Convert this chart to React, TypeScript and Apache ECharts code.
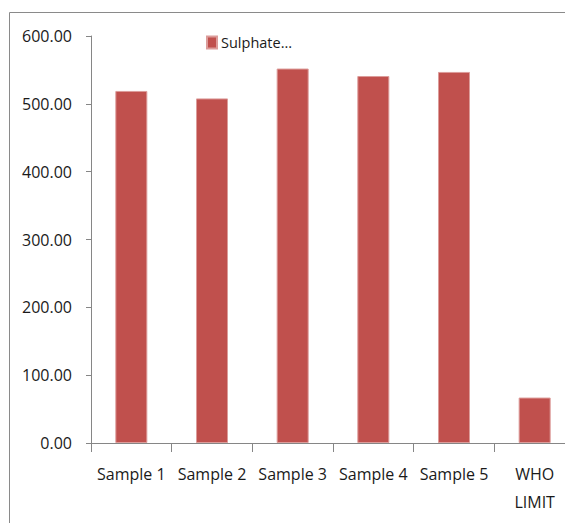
import React, { useEffect, useRef } from "react";
import * as echarts from "echarts";

// Sulphate concentration per sample, compared with the WHO limit
const categories = ["Sample 1", "Sample 2", "Sample 3", "Sample 4", "Sample 5", "WHO\nLIMIT"];
const sulphate = [519, 508, 552, 541, 547, 67];
const seriesName = "Sulphate...";
const yTicks = { min: 0, max: 600, step: 100 };

const FONT = "'Open Sans', 'DejaVu Sans', sans-serif";
const AXIS_GRAY = "#868686";
const TEXT = "#1a1a1a";

export default function App() {
  const ref = useRef<HTMLDivElement>(null);

  useEffect(() => {
    if (!ref.current) return;
    const chart = echarts.init(ref.current, undefined, { renderer: "svg" });
    chart.setOption({
      animation: false,
      backgroundColor: "#ffffff",
      textStyle: { fontFamily: FONT },
      graphic: [
        {
          type: "rect",
          shape: { x: 9.5, y: 12.5, width: 700, height: 700 },
          style: { fill: "none", stroke: "#8a8a8a", lineWidth: 1 },
          silent: true,
          z: -1,
        },
      ],
      legend: {
        data: [seriesName],
        left: 206,
        top: 34,
        padding: 0,
        itemWidth: 10,
        itemHeight: 12,
        itemGap: 10,
        icon: "rect",
        textStyle: { fontFamily: FONT, fontSize: 14.5, color: TEXT, lineHeight: 17, padding: [0, 0, 0, -1] },
      },
      grid: { left: 91, top: 36, width: 484, height: 407, containLabel: false },
      xAxis: {
        type: "category",
        data: categories,
        axisLine: { show: true, lineStyle: { color: AXIS_GRAY, width: 1 } },
        axisTick: { show: true, alignWithLabel: false, length: 9, lineStyle: { color: AXIS_GRAY } },
        axisLabel: {
          interval: 0,
          margin: 17,
          fontFamily: FONT,
          fontSize: 16,
          lineHeight: 28,
          color: TEXT,
        },
        splitLine: { show: false },
      },
      yAxis: {
        type: "value",
        min: yTicks.min,
        max: yTicks.max,
        interval: yTicks.step,
        axisLine: { show: true, lineStyle: { color: AXIS_GRAY, width: 1 } },
        axisTick: { show: true, inside: false, length: 5, lineStyle: { color: AXIS_GRAY } },
        axisLabel: {
          margin: 19,
          fontFamily: FONT,
          fontSize: 16,
          color: TEXT,
          formatter: (v: number) => v.toFixed(2),
        },
        splitLine: { show: false },
      },
      series: [
        {
          name: seriesName,
          type: "bar",
          data: sulphate,
          barWidth: 32,
          itemStyle: { color: "#C0504D", borderColor: "#dc9c9a", borderWidth: 1 },
        },
      ],
    });
    return () => chart.dispose();
  }, []);

  // The plot runs past the right edge, so the chart is wider than its clipping frame.
  return (
    <div
      style={{ position: "absolute", left: 0, top: 0, width: 565, height: 523, overflow: "hidden" }}
    >
      <div ref={ref} style={{ width: 620, height: 523 }} />
    </div>
  );
}
